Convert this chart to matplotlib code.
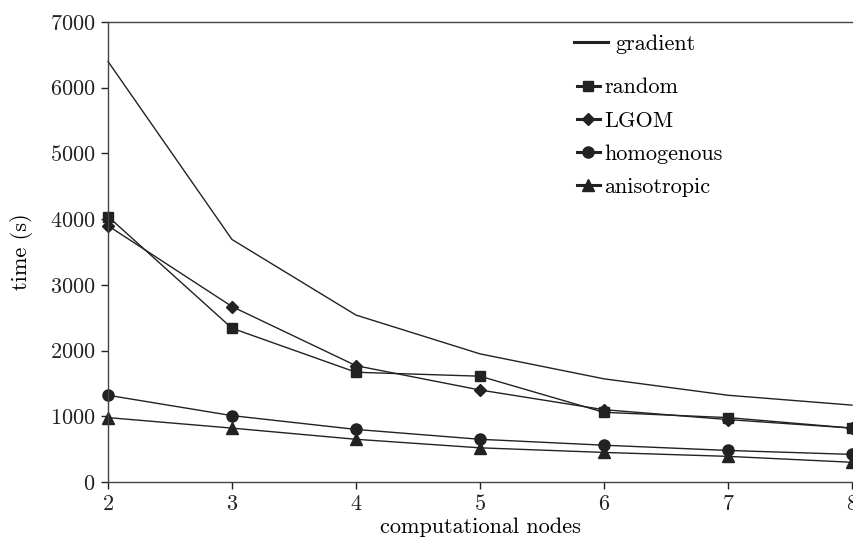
import matplotlib
matplotlib.use("Agg")
import matplotlib.pyplot as plt
from matplotlib.lines import Line2D

nodes = [2, 3, 4, 5, 6, 7, 8]
gradient = [6400, 3690, 2540, 1950, 1570, 1320, 1170]
random_ = [4040, 2340, 1670, 1610, 1060, 980, 820]
lgom = [3900, 2670, 1770, 1400, 1100, 950, 820]
homogenous = [1320, 1010, 800, 650, 560, 480, 420]
anisotropic = [980, 820, 650, 520, 450, 390, 300]

xticks = [2, 3, 4, 5, 6, 7, 8]
yticks = [0, 1000, 2000, 3000, 4000, 5000, 6000, 7000]

plt.rcParams['font.family'] = ['cmr10', 'DejaVu Serif']
plt.rcParams['axes.formatter.use_mathtext'] = True
plt.rcParams['mathtext.fontset'] = 'cm'

fig = plt.figure(figsize=(8.54, 5.40), dpi=100)
ax = fig.add_axes([108/854, 1-482/540, (852-108)/854, (482-22)/540])

c = '#222222'
lw = 1.0
ax.plot(nodes, gradient, color=c, lw=lw, clip_on=False)
ax.plot(nodes, random_, color=c, lw=lw, marker='s', ms=7, clip_on=False)
ax.plot(nodes, lgom, color=c, lw=lw, marker='D', ms=6, clip_on=False)
ax.plot(nodes, homogenous, color=c, lw=lw, marker='o', ms=8, clip_on=False)
ax.plot(nodes, anisotropic, color=c, lw=lw, marker='^', ms=8, clip_on=False)

ax.set_xlim(2, 8)
ax.set_ylim(0, 7000)
ax.set_xticks(xticks)
ax.set_yticks(yticks)
ax.tick_params(direction='out', length=5, width=1, labelsize=16, colors='#222222', pad=4)
for s in ['left', 'bottom', 'top']:
    ax.spines[s].set_color('#444444')
    ax.spines[s].set_linewidth(1)
ax.spines['right'].set_visible(False)

ax.set_xlabel('computational nodes', fontsize=16, labelpad=2)
ax.set_ylabel('time (s)', fontsize=16, labelpad=12)

h1 = [Line2D([], [], color=c, lw=2.2)]
leg1 = ax.legend(h1, ['gradient'], loc='upper left', bbox_to_anchor=(0.6, 1.017),
                 frameon=False, fontsize=16, handlelength=1.5, handletextpad=0.35)
ax.add_artist(leg1)
h2 = [Line2D([], [], color=c, lw=2.2, marker='s', ms=7),
      Line2D([], [], color=c, lw=2.2, marker='D', ms=6),
      Line2D([], [], color=c, lw=2.2, marker='o', ms=8),
      Line2D([], [], color=c, lw=2.2, marker='^', ms=8)]
ax.legend(h2, ['random', 'LGOM', 'homogenous', 'anisotropic'], loc='upper left',
          bbox_to_anchor=(0.603, 0.922), frameon=False, fontsize=16,
          handlelength=1.05, handletextpad=0.2, labelspacing=0.61)

fig.savefig('out.png', dpi=100)
